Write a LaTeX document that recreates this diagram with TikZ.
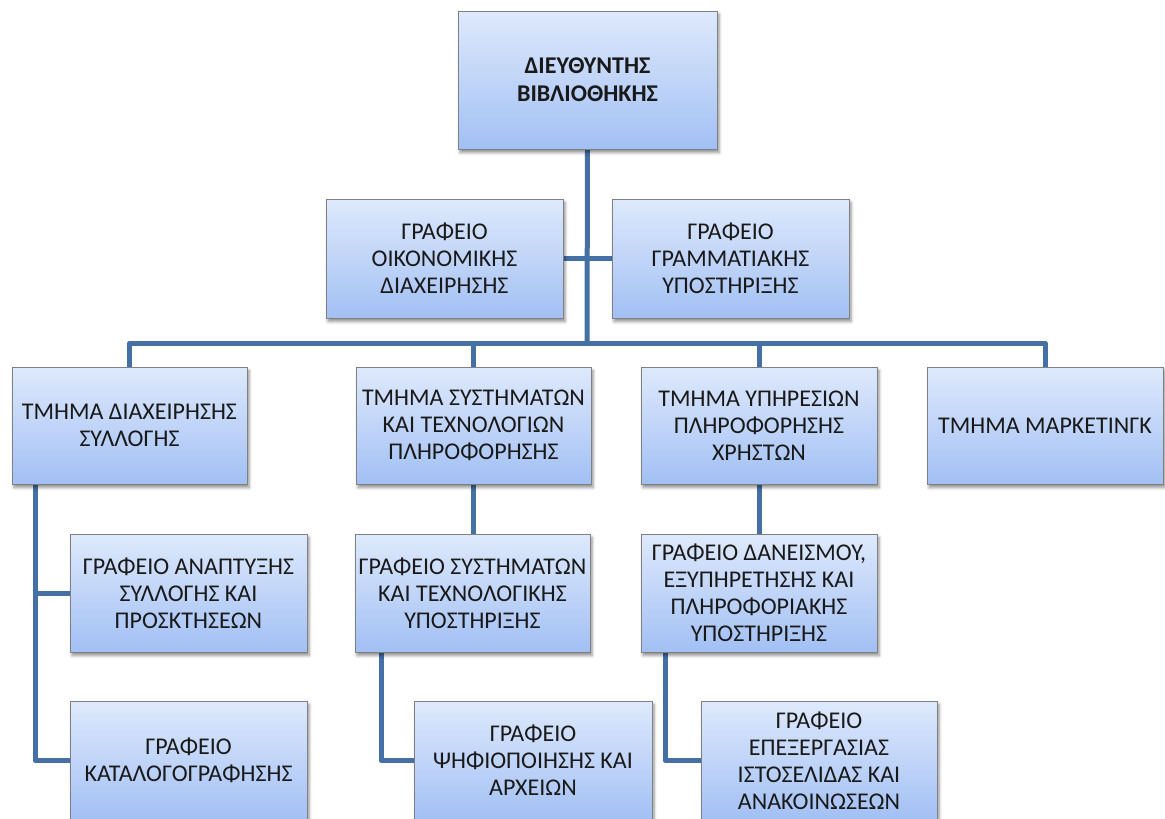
\documentclass[tikz,border=0pt]{standalone}
\usepackage{fontspec}
\setmainfont{Carlito}
\usetikzlibrary{shadows.blur,backgrounds}

\definecolor{boxtop}{RGB}{222,233,252}
\definecolor{boxbot}{RGB}{162,192,244}
\definecolor{boxedge}{RGB}{128,128,128}
\definecolor{linkblue}{RGB}{69,112,166}

\tikzset{
  orgbox/.style={
    rectangle, draw=boxedge, line width=0.9pt,
    top color=boxtop, bottom color=boxbot,
    inner sep=0pt, outer sep=0pt, align=center,
    font=\fontsize{24}{27}\selectfont, text=black!90,
    blur shadow={shadow xshift=2pt, shadow yshift=-3.5pt,
                 shadow blur radius=3pt, shadow opacity=45}
  },
  link/.style={draw=linkblue, line width=5pt, line join=round}
}

\begin{document}
\begin{tikzpicture}[x=1pt,y=-1pt]
\useasboundingbox (0,0) rectangle (1165,819);

% director
\node[orgbox, minimum width=259pt, minimum height=138pt, font=\fontsize{24}{28}\selectfont\bfseries]
  (dir) at (587.5,80) {ΔΙΕΥΘΥΝΤΗΣ\\ΒΙΒΛΙΟΘΗΚΗΣ};

% staff offices
\node[orgbox, minimum width=237pt, minimum height=119pt]
  (fin) at (444.5,258.5) {ΓΡΑΦΕΙΟ\\ΟΙΚΟΝΟΜΙΚΗΣ\\ΔΙΑΧΕΙΡΗΣΗΣ};
\node[orgbox, minimum width=237pt, minimum height=119pt]
  (sec) at (730.5,258.5) {ΓΡΑΦΕΙΟ\\ΓΡΑΜΜΑΤΙΑΚΗΣ\\ΥΠΟΣΤΗΡΙΞΗΣ};

% departments
\node[orgbox, minimum width=235pt, minimum height=117pt]
  (dA) at (129.5,425.5) {ΤΜΗΜΑ ΔΙΑΧΕΙΡΗΣΗΣ\\ΣΥΛΛΟΓΗΣ};
\node[orgbox, minimum width=235pt, minimum height=117pt]
  (dB) at (473.5,425.5) {ΤΜΗΜΑ ΣΥΣΤΗΜΑΤΩΝ\\ΚΑΙ ΤΕΧΝΟΛΟΓΙΩΝ\\ΠΛΗΡΟΦΟΡΗΣΗΣ};
\node[orgbox, minimum width=236pt, minimum height=117pt]
  (dC) at (759,425.5) {ΤΜΗΜΑ ΥΠΗΡΕΣΙΩΝ\\ΠΛΗΡΟΦΟΡΗΣΗΣ\\ΧΡΗΣΤΩΝ};
\node[orgbox, minimum width=236pt, minimum height=117pt]
  (dD) at (1045,425.5) {ΤΜΗΜΑ ΜΑΡΚΕΤΙΝΓΚ};

% offices under the departments
\node[orgbox, minimum width=237pt, minimum height=118pt]
  (a1) at (188.5,593) {ΓΡΑΦΕΙΟ ΑΝΑΠΤΥΞΗΣ\\ΣΥΛΛΟΓΗΣ ΚΑΙ\\ΠΡΟΣΚΤΗΣΕΩΝ};
\node[orgbox, minimum width=237pt, minimum height=119pt]
  (a2) at (188.5,760.5) {ΓΡΑΦΕΙΟ\\ΚΑΤΑΛΟΓΟΓΡΑΦΗΣΗΣ};
\node[orgbox, minimum width=235pt, minimum height=118pt]
  (b1) at (472.5,593) {ΓΡΑΦΕΙΟ ΣΥΣΤΗΜΑΤΩΝ\\ΚΑΙ ΤΕΧΝΟΛΟΓΙΚΗΣ\\ΥΠΟΣΤΗΡΙΞΗΣ};
\node[orgbox, minimum width=238pt, minimum height=119pt]
  (b2) at (533,760.5) {ΓΡΑΦΕΙΟ\\ΨΗΦΙΟΠΟΙΗΣΗΣ ΚΑΙ\\ΑΡΧΕΙΩΝ};
\node[orgbox, minimum width=236pt, minimum height=118pt]
  (c1) at (759,593) {ΓΡΑΦΕΙΟ ΔΑΝΕΙΣΜΟΥ,\\ΕΞΥΠΗΡΕΤΗΣΗΣ ΚΑΙ\\ΠΛΗΡΟΦΟΡΙΑΚΗΣ\\ΥΠΟΣΤΗΡΙΞΗΣ};
\node[orgbox, minimum width=236pt, minimum height=119pt]
  (c2) at (819,760.5) {ΓΡΑΦΕΙΟ\\ΕΠΕΞΕΡΓΑΣΙΑΣ\\ΙΣΤΟΣΕΛΙΔΑΣ ΚΑΙ\\ΑΝΑΚΟΙΝΩΣΕΩΝ};

% junction points of the connectors
\coordinate (bus) at (587,343);
\coordinate (aspine) at (35,0);
\coordinate (bspine) at (381,0);
\coordinate (cspine) at (665,0);

\begin{scope}[on background layer]
  \draw[link] (dir.south) -- (bus);
  \draw[link] (fin.east) -- (sec.west);
  \draw[link] (dA.north) |- (bus) -| (dD.north);
  \draw[link] (dB.north) -- (dB.north |- bus);
  \draw[link] (dC.north) -- (dC.north |- bus);
  \draw[link] (dA.south -| aspine) |- (a2.west);
  \draw[link] (a1.west) -- (a1.west -| aspine);
  \draw[link] (dB.south) -- (dB.south |- b1.north);
  \draw[link] (b1.south -| bspine) |- (b2.west);
  \draw[link] (dC.south) -- (c1.north);
  \draw[link] (c1.south -| cspine) |- (c2.west);
\end{scope}
\end{tikzpicture}
\end{document}
